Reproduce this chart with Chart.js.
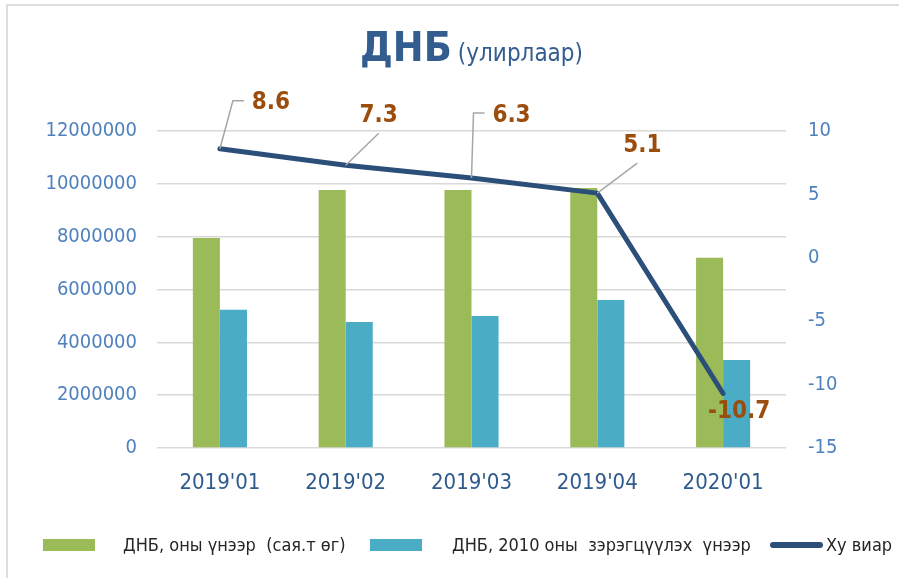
<!DOCTYPE html>
<html>
<head>
<meta charset="utf-8">
<script src="https://cdn.jsdelivr.net/npm/chart.js@4.4.1/dist/chart.umd.min.js"></script>
<style>
  html, body { margin: 0; padding: 0; background: #fff; overflow: hidden; }
  #wrap { position: relative; width: 899px; height: 578px; }
  #frame { position: absolute; left: 6px; top: 4px; width: 1000px; height: 1000px; border: 2px solid #dedede; }
  #title { position: absolute; left: 360px; top: 27px; line-height: 1; white-space: nowrap;
           font-family: 'DejaVu Sans Condensed', 'DejaVu Sans', sans-serif; color: #335d8f; }
  #title .big { font-size: 41px; font-weight: bold; }
  #title .small { font-size: 24px; margin-left: 6px; }
  .leg { position: absolute; font-family: 'DejaVu Sans Condensed', 'DejaVu Sans', sans-serif;
         font-size: 18px; color: #262626; white-space: pre; line-height: 1; }
  .sw { position: absolute; }
  canvas { position: absolute; left: 0; top: 0; }
</style>
</head>
<body>
<div id="wrap">
  <div id="frame"></div>
  <canvas id="gdpChart" width="899" height="578"></canvas>
  <div id="title"><span class="big">ДНБ</span><span class="small">(улирлаар)</span></div>
  <div id="legend"></div>
</div>
<script>
// Өгөгдөл
const categories = ["2019'01", "2019'02", "2019'03", "2019'04", "2020'01"];
const seriesNames = ['ДНБ, оны үнээр  (сая.т өг)', 'ДНБ, 2010 оны  зэрэгцүүлэх  үнээр', 'Ху виар'];
const gdpCurrent = [7950000, 9770000, 9770000, 9840000, 7200000];
const gdpReal = [5230000, 4770000, 5000000, 5600000, 3330000];
const growth = [8.6, 7.3, 6.3, 5.1, -10.7];
const leftTicks = { min: 0, max: 12000000, step: 2000000 };
const rightTicks = { min: -15, max: 10, step: 5 };

const colors = ['#9bbb59', '#4bacc6', '#2c4f79'];
const FONT = "'DejaVu Sans Condensed', 'DejaVu Sans', sans-serif";

// Шошгын байрлал (цэгээс)
const labelOffsets = [[51, -46], [33, -49], [40, -62], [45, -47], [16, 18]];
const leaderPaths = [[[13, -48], [24, -48]], [[33, -32]], [[2, -65], [13, -65]], [[40, -30]], []];

const growthLabels = {
    id: 'growthLabels',
    afterDatasetsDraw(chart) {
        const ctx = chart.ctx;
        const meta = chart.getDatasetMeta(2);
        ctx.save();
        meta.data.forEach(function(pt, i) {
            const path = leaderPaths[i];
            if (path.length) {
                ctx.beginPath();
                ctx.moveTo(pt.x, pt.y);
                path.forEach(function(p) { ctx.lineTo(pt.x + p[0], pt.y + p[1]); });
                ctx.strokeStyle = '#a6a6a6';
                ctx.lineWidth = 1.5;
                ctx.stroke();
            }
            ctx.font = 'bold 24px ' + FONT;
            ctx.fillStyle = '#9a4d0c';
            ctx.textAlign = 'center';
            ctx.textBaseline = 'middle';
            ctx.fillText(growth[i].toString(), pt.x + labelOffsets[i][0], pt.y + labelOffsets[i][1]);
        });
        ctx.restore();
    }
};

new Chart(document.getElementById('gdpChart'), {
    type: 'bar',
    data: {
        labels: categories,
        datasets: [{
            label: seriesNames[0],
            data: gdpCurrent,
            backgroundColor: colors[0],
            yAxisID: 'y',
            order: 1,
            categoryPercentage: 0.43,
            barPercentage: 1.0
        }, {
            label: seriesNames[1],
            data: gdpReal,
            backgroundColor: colors[1],
            yAxisID: 'y',
            order: 1,
            categoryPercentage: 0.43,
            barPercentage: 1.0
        }, {
            type: 'line',
            label: seriesNames[2],
            data: growth,
            borderColor: colors[2],
            borderWidth: 5,
            borderCapStyle: 'round',
            borderJoinStyle: 'round',
            pointRadius: 0,
            tension: 0,
            yAxisID: 'y1',
            order: 0
        }]
    },
    options: {
        responsive: false,
        animation: false,
        devicePixelRatio: 1,
        layout: { padding: { top: 131, left: 0, right: 0, bottom: 0 } },
        plugins: {
            legend: { display: false },
            tooltip: { enabled: false },
            title: { display: false }
        },
        scales: {
            x: {
                grid: { display: false },
                border: { display: false },
                ticks: { color: '#2f5b8c', font: { family: FONT, size: 22 }, padding: 14 },
                afterFit: function(scale) { scale.height = 130; }
            },
            y: {
                position: 'left',
                min: leftTicks.min,
                max: leftTicks.max,
                grid: { color: '#d9d9d9', lineWidth: 1.5, drawTicks: false },
                border: { display: false },
                ticks: {
                    stepSize: leftTicks.step,
                    color: '#4f81bd',
                    font: { family: FONT, size: 20 },
                    padding: 20,
                    callback: function(value) { return String(value); }
                },
                afterFit: function(scale) { scale.width = 157; }
            },
            y1: {
                position: 'right',
                min: rightTicks.min,
                max: rightTicks.max,
                grid: { display: false, drawTicks: false },
                border: { display: false },
                ticks: {
                    stepSize: rightTicks.step,
                    color: '#4f81bd',
                    font: { family: FONT, size: 20 },
                    padding: 22
                },
                afterFit: function(scale) { scale.width = 113; }
            }
        }
    },
    plugins: [growthLabels]
});

// Тайлбар
const legendPos = [
    { sw: [43, 539, 52, 12], text: 123 },
    { sw: [370, 539, 52, 12], text: 452 },
    { sw: [770, 542, 53, 6], text: 826 }
];
const legend = document.getElementById('legend');
seriesNames.forEach(function(name, i) {
    const p = legendPos[i];
    const sw = document.createElement('div');
    sw.className = 'sw';
    sw.style.left = p.sw[0] + 'px';
    sw.style.top = p.sw[1] + 'px';
    sw.style.width = p.sw[2] + 'px';
    sw.style.height = p.sw[3] + 'px';
    sw.style.background = colors[i];
    if (i === 2) sw.style.borderRadius = '3px';
    legend.appendChild(sw);
    const t = document.createElement('div');
    t.className = 'leg';
    t.style.left = p.text + 'px';
    t.style.top = '536px';
    t.textContent = name;
    legend.appendChild(t);
});
</script>
</body>
</html>
